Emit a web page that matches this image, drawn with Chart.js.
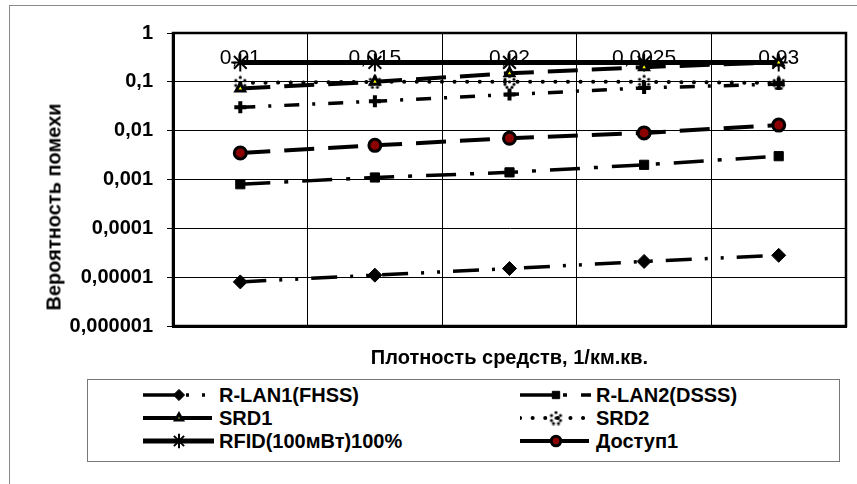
<!DOCTYPE html>
<html><head><meta charset="utf-8">
<script src="https://cdn.jsdelivr.net/npm/chart.js@4.4.1/dist/chart.umd.min.js"></script>
<style>
html,body{margin:0;padding:0;background:#fff;width:857px;height:484px;overflow:hidden;font-family:"Liberation Sans",Arial,sans-serif;}
#frame{position:absolute;left:9px;top:5px;width:900px;height:500px;border-left:1px solid #8a8a8a;border-top:1px solid #8a8a8a;}
#wrap{position:absolute;left:0;top:0;width:857px;height:484px;}
#ytitle{position:absolute;left:54px;top:207px;transform:translate(-50%,-50%) rotate(-90deg);white-space:nowrap;font-weight:bold;font-size:20px;color:#000;}
#legend{position:absolute;left:87px;top:379px;width:753px;height:83px;border:1px solid #777;box-sizing:border-box;background:#fff;}
.item{position:absolute;display:flex;align-items:center;height:23px;font-weight:bold;font-size:20px;color:#000;white-space:nowrap;}
.item canvas{margin-right:5px;display:block;}
</style></head>
<body>
<div id="frame"></div>
<div id="wrap"><canvas id="c" width="857" height="484"></canvas></div>
<div id="ytitle">Вероятность помехи</div>
<div id="legend"></div>
<script>
// ---- data ----
const categoryLabels = ['0,01', '0,015', '0,02', '0,0025', '0,03'];
const yTickValues = [1, 0.1, 0.01, 0.001, 0.0001, 0.00001, 0.000001];
const yTickLabels = ['1', '0,1', '0,01', '0,001', '0,0001', '0,00001', '0,000001'];
const seriesNames = ['R-LAN1(FHSS)', 'R-LAN2(DSSS)', 'SRD1', 'SRD2', 'RFID(100мВт)100%', 'Доступ1', 'Ряд7'];
const rlan1 = [0.000008, 0.000011, 0.000015, 0.000021, 0.000028];
const rlan2 = [0.0008, 0.0011, 0.0014, 0.002, 0.003];
const srd1 = [0.073, 0.1, 0.15, 0.2, 0.25];
const srd2 = [0.095, 0.1, 0.1, 0.1, 0.095];
const rfid = [0.25, 0.25, 0.25, 0.25, 0.25];
const dostup1 = [0.0035, 0.005, 0.007, 0.009, 0.013];
const series7 = [0.03, 0.04, 0.055, 0.075, 0.09];
const xTitle = 'Плотность средств, 1/км.кв.';

// custom marker for SRD2
function makeSrd2Marker(){
  const cv = document.createElement('canvas'); cv.width = 15; cv.height = 15;
  const c = cv.getContext('2d'); c.fillStyle = '#000';
  const pts = [[7.5,2],[3,5],[12,5],[7.5,7.5],[3,10],[12,10],[5,13],[10,13]];
  pts.forEach(p=>{c.beginPath(); c.arc(p[0],p[1],1.6,0,Math.PI*2); c.fill();});
  return cv;
}
const srd2Marker = makeSrd2Marker();

const datasets = [
  {label: seriesNames[0], data: rlan1, borderColor:'#000', borderWidth:3.5, borderDash:[26,13,3,13,3,13],
   pointStyle:'rectRot', pointRadius:7, pointBackgroundColor:'#000', pointBorderColor:'#000', pointBorderWidth:1},
  {label: seriesNames[1], data: rlan2, borderColor:'#000', borderWidth:3.5, borderDash:[30,14,4,14],
   pointStyle:'rect', pointRadius:6.5, pointBackgroundColor:'#000', pointBorderColor:'#000', pointBorderWidth:1},
  {label: seriesNames[2], data: srd1, borderColor:'#000', borderWidth:4, borderDash:[30,14],
   pointStyle:'triangle', pointRadius:5, pointBackgroundColor:'#ffff00', pointBorderColor:'#000', pointBorderWidth:3},
  {label: seriesNames[3], data: srd2, borderColor:'#000', borderWidth:4, borderDash:[0.1,12.5], borderCapStyle:'round',
   pointStyle:srd2Marker, pointRadius:7, pointBackgroundColor:'#000', pointBorderColor:'#000', pointBorderWidth:1},
  {label: seriesNames[4], data: rfid, borderColor:'#000', borderWidth:5, borderDash:[],
   pointStyle:'star', pointRadius:9, pointBackgroundColor:'#000', pointBorderColor:'#000', pointBorderWidth:2},
  {label: seriesNames[5], data: dostup1, borderColor:'#000', borderWidth:4, borderDash:[30,14],
   pointStyle:'circle', pointRadius:6, pointBackgroundColor:'#8b0000', pointBorderColor:'#000', pointBorderWidth:3},
  {label: seriesNames[6], data: series7, borderColor:'#000', borderWidth:3.5, borderDash:[15,13,3,13],
   pointStyle:'cross', pointRadius:6, pointBackgroundColor:'#000', pointBorderColor:'#000', pointBorderWidth:4}
];
datasets.forEach(d=>{d.fill=false; d.tension=0; d.pointHoverRadius=d.pointRadius;});

const catLabelPlugin = {
  id:'catLabels',
  beforeDatasetsDraw(chart){
    const ctx = chart.ctx, xs = chart.scales.x;
    ctx.save();
    ctx.font = '21px "Liberation Sans", Arial, sans-serif';
    ctx.fillStyle = '#000'; ctx.textAlign = 'center'; ctx.textBaseline = 'middle';
    categoryLabels.forEach((t,i)=>ctx.fillText(t, xs.getPixelForValue(i), 58));
    ctx.restore();
  }
};
const framePlugin = {
  id:'plotFrame',
  afterDatasetsDraw(chart){
    const {ctx, chartArea:a} = chart;
    ctx.save(); ctx.strokeStyle='#000'; ctx.lineWidth=2.5;
    ctx.strokeRect(a.left, a.top, a.right-a.left, a.bottom-a.top);
    ctx.restore();
  }
};

const chart = new Chart(document.getElementById('c'), {
  type:'line',
  data:{labels: categoryLabels, datasets},
  options:{
    responsive:false, animation:false, devicePixelRatio:1,
    layout:{padding:{left:0, top:33, right:3, bottom:114}},
    plugins:{legend:{display:false}, tooltip:{enabled:false}},
    scales:{
      x:{
        offset:true,
        grid:{offset:true, color:'#000', lineWidth:1, drawTicks:false},
        border:{color:'#000', width:3},
        ticks:{display:false},
        title:{display:true, text:xTitle, color:'#000', font:{family:'"Liberation Sans", Arial, sans-serif', size:20, weight:'bold'}, padding:{top:0,bottom:0}},
        afterFit(s){ s.height = 44; }
      },
      y:{
        type:'logarithmic', min:0.000001, max:1,
        afterBuildTicks(s){ s.ticks = yTickValues.map(v=>({value:v})); },
        ticks:{
          color:'#000', padding:14, autoSkip:false,
          font:{family:'"Liberation Sans", Arial, sans-serif', size:20, weight:'bold'},
          callback(v){ const i = yTickValues.findIndex(t=>Math.abs(Math.log10(t)-Math.log10(v))<1e-6); return i>=0 ? yTickLabels[i] : ''; }
        },
        grid:{color:'#000', lineWidth:1, tickLength:6, tickColor:'#000'},
        border:{color:'#000', width:3},
        afterFit(s){ s.width = 173; }
      }
    }
  },
  plugins:[catLabelPlugin, framePlugin]
});

// ---- HTML legend ----
const legendEl = document.getElementById('legend');
const legendPos = [[55,3.5],[432,3.5],[55,26.5],[432,26.5],[55,49.5],[432,49.5]];
function drawSymbol(cv, ds){
  const c = cv.getContext('2d');
  c.strokeStyle = '#000'; c.lineWidth = ds.borderWidth;
  const dash = ds.borderDash || [];
  c.lineCap = ds.borderCapStyle || 'butt';
  if (dash.length && dash[0] > 1) {
    c.setLineDash([]);
    c.beginPath(); c.moveTo(0,10); c.lineTo(33,10); c.stroke();
    c.setLineDash(dash);
    c.lineDashOffset = dash.length > 2 ? dash[0] + dash[1] - 4 : 0;
    c.beginPath(); c.moveTo(39,10); c.lineTo(cv.width,10); c.stroke();
    c.lineDashOffset = 0;
  } else {
    c.setLineDash(dash);
    c.beginPath(); c.moveTo(0,10); c.lineTo(cv.width,10); c.stroke();
  }
  c.setLineDash([]); c.lineCap='butt';
  c.fillStyle = ds.pointBackgroundColor; c.strokeStyle = ds.pointBorderColor; c.lineWidth = ds.pointBorderWidth;
  try {
    Chart.helpers.drawPoint(c, {pointStyle: ds.pointStyle, radius: ds.pointRadius*0.8, borderWidth: ds.pointBorderWidth, rotation:0}, 36, 10);
  } catch(e) {
    c.beginPath(); c.arc(36,10,ds.pointRadius*0.8,0,Math.PI*2); c.fill(); c.stroke();
  }
}
for (let i=0;i<6;i++){
  const it = document.createElement('div'); it.className='item';
  it.style.left = legendPos[i][0]+'px'; it.style.top = legendPos[i][1]+'px';
  const cv = document.createElement('canvas'); cv.width = 71; cv.height = 20;
  drawSymbol(cv, datasets[i]);
  const sp = document.createElement('span'); sp.textContent = seriesNames[i];
  it.appendChild(cv); it.appendChild(sp); legendEl.appendChild(it);
}
</script>
</body></html>
